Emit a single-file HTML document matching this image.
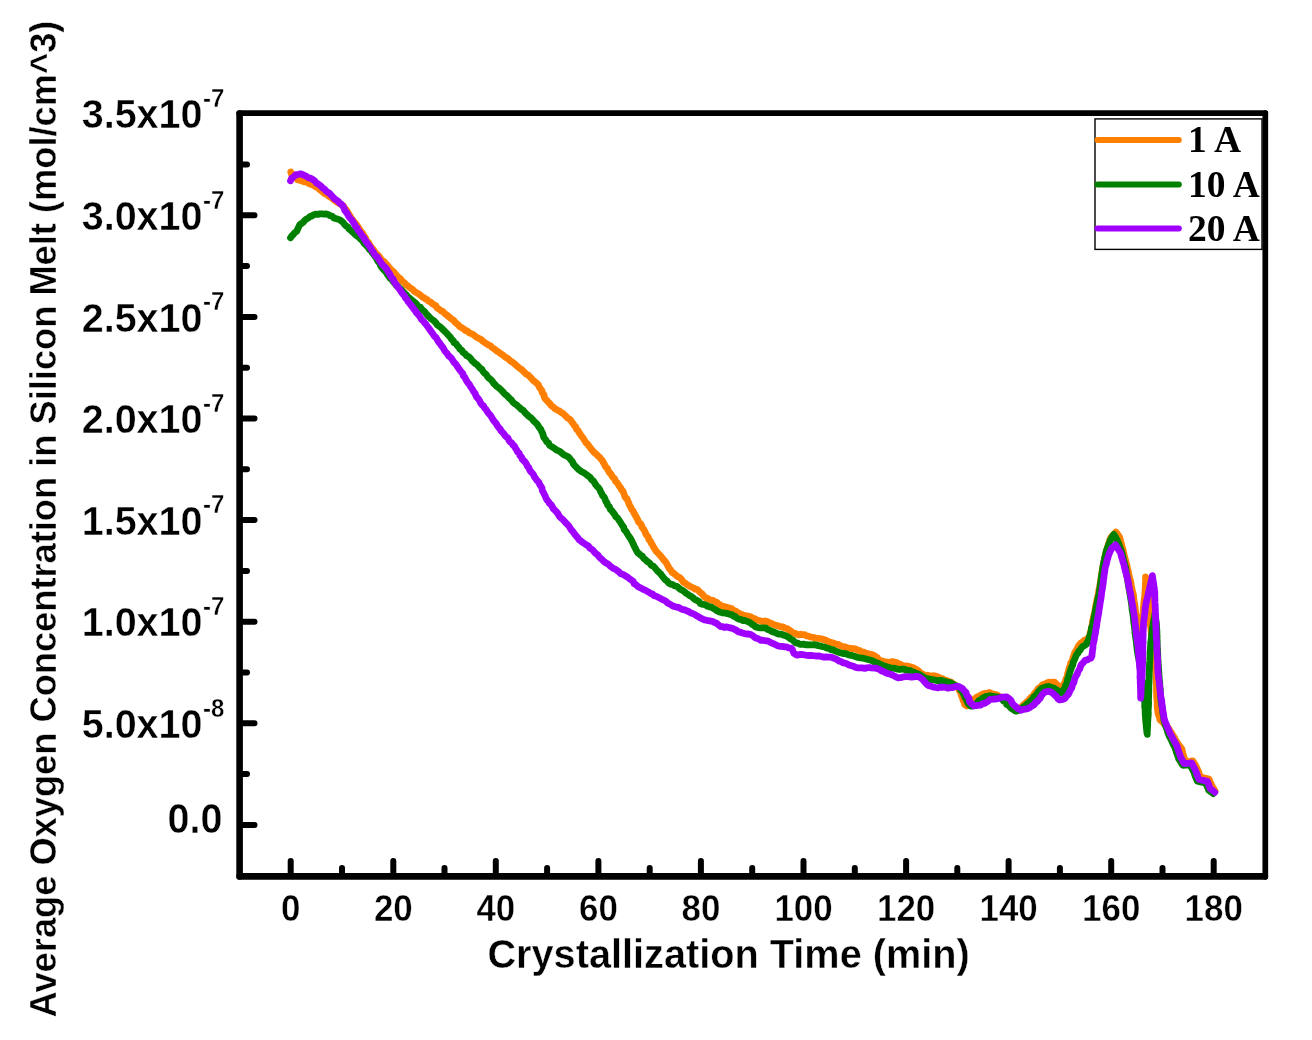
<!DOCTYPE html>
<html lang="en"><head><meta charset="utf-8"><title>Average Oxygen Concentration in Silicon Melt</title>
<style>
html,body{margin:0;padding:0;background:#fff}
svg{display:block}
text{font-family:"Liberation Sans",Arial,Helvetica,sans-serif;font-weight:bold;fill:#000}
.xt,.yt,.ys,.xl,.yl{stroke:#fff;stroke-width:.4px}
.lg{font-family:"Liberation Serif","Times New Roman",serif;font-size:37.5px}
.xt{font-size:34.9px}
.yt{font-size:39.5px}
.ys{font-size:24px}
.xl{font-size:39.7px}
.yl{font-size:36.25px}
</style></head><body>
<svg width="1312" height="1040" viewBox="0 0 1312 1040">
<rect width="1312" height="1040" fill="#fff"/>
<path d="M290.8 172.0L291.8 175.0L293.9 176.7L296.0 177.8L297.6 179.7L299.9 180.3L302.7 181.2L304.9 181.9L307.0 182.2L309.1 183.6L311.0 184.4L313.1 184.8L315.0 186.4L316.5 187.0L318.7 188.6L320.4 190.1L322.1 191.5L323.5 192.7L325.3 194.1L327.4 194.7L328.5 196.1L331.0 197.5L332.5 198.7L334.2 200.1L336.0 201.4L338.2 202.8L340.2 203.9L342.1 205.1L343.4 205.9L344.8 208.2L346.0 209.6L347.0 211.0L348.2 213.0L348.9 214.3L350.6 216.9L351.2 218.5L352.8 219.8L354.0 222.1L355.8 223.4L356.9 225.2L358.3 227.2L359.7 229.5L360.5 231.2L361.5 232.0L363.0 233.7L363.8 235.7L365.2 237.2L365.9 239.5L367.2 241.3L368.7 242.6L369.4 244.5L370.7 246.3L371.9 248.1L373.6 249.9L374.7 251.9L376.1 253.4L378.2 255.3L379.4 256.7L380.8 258.8L382.0 260.4L384.1 261.5L385.6 263.4L387.1 264.8L388.5 266.6L389.3 267.6L391.2 269.8L392.3 270.8L394.0 272.2L395.3 273.8L396.8 275.7L398.3 277.2L400.2 278.5L401.6 280.6L402.9 281.6L404.9 283.1L405.9 284.7L407.9 285.8L409.1 287.2L411.1 288.5L412.8 289.5L414.1 291.2L416.4 292.4L417.8 293.4L420.0 294.8L422.1 296.7L423.4 297.4L425.6 298.9L427.3 299.8L428.4 301.0L430.7 302.1L432.0 303.4L433.8 304.6L435.9 305.8L436.9 307.8L439.4 309.3L440.8 310.7L443.0 311.5L444.6 313.5L446.3 314.6L447.7 315.9L449.4 317.1L451.4 318.8L453.3 320.0L455.0 322.0L456.8 323.7L458.4 324.9L459.4 326.4L461.3 327.4L463.6 328.9L465.3 330.4L467.4 331.1L469.0 332.7L471.2 333.7L473.0 334.4L475.1 336.1L476.7 337.3L479.3 338.6L481.1 339.3L482.8 341.3L484.3 342.2L486.4 343.7L488.4 345.0L490.6 345.9L491.8 347.3L493.7 348.5L496.1 350.4L497.1 351.3L499.0 352.3L500.7 353.8L502.6 354.8L504.0 356.0L505.7 357.4L507.9 358.5L509.0 359.6L511.0 361.3L513.0 362.5L514.8 364.1L516.1 365.2L517.9 366.9L519.5 368.2L521.3 369.2L523.0 371.0L524.4 372.3L526.4 374.2L528.5 375.3L530.2 377.2L531.4 378.4L533.0 380.3L535.2 381.9L536.9 383.3L538.4 384.9L539.1 386.8L540.1 388.4L541.8 390.4L542.2 392.5L543.9 394.6L544.3 397.2L545.5 399.1L547.2 400.9L548.7 402.5L549.9 403.7L551.3 405.7L552.8 406.6L554.6 408.5L555.8 409.0L558.0 410.5L559.5 411.0L561.2 412.5L563.2 413.6L564.5 414.9L566.0 416.3L567.3 417.8L569.6 419.1L570.8 420.4L572.1 422.4L573.3 423.9L574.3 425.7L575.8 426.9L576.3 429.1L578.2 430.6L579.0 432.5L580.0 433.8L581.2 435.8L582.5 437.2L584.0 439.5L584.9 441.0L586.3 442.9L587.6 444.1L588.6 445.6L590.1 447.5L591.3 449.1L592.9 451.0L594.3 452.7L596.2 454.0L597.7 455.7L599.5 457.0L600.6 458.8L602.2 460.2L603.2 462.4L604.1 463.5L605.0 465.7L606.4 467.7L607.7 468.8L608.3 470.6L609.5 472.7L611.3 474.5L612.0 476.2L613.3 477.5L614.8 478.9L615.5 481.2L616.9 482.5L618.4 484.5L619.1 485.9L620.6 487.8L621.5 489.7L623.1 491.4L623.7 493.1L624.5 495.5L625.3 497.6L626.9 498.8L627.9 501.0L628.8 503.2L629.4 505.0L630.7 507.0L631.4 508.9L633.0 510.7L633.6 512.1L634.6 514.2L635.8 516.4L636.7 517.8L637.9 520.1L638.5 522.1L640.0 523.2L641.4 525.0L642.0 527.2L643.3 528.8L644.4 530.5L645.2 532.1L645.9 534.3L647.5 536.0L648.4 537.7L648.9 539.6L650.4 541.1L651.2 543.1L652.6 545.1L653.5 547.0L654.9 549.2L656.0 551.1L657.3 552.4L658.8 554.0L660.9 556.3L662.0 557.7L663.7 559.9L665.4 561.7L666.4 563.0L667.3 564.8L668.5 567.0L669.2 568.5L670.8 570.0L672.1 572.4L673.8 573.3L675.3 574.7L677.2 576.3L679.0 577.1L680.9 578.7L682.3 580.6L683.4 582.2L685.7 583.5L687.4 584.7L689.0 585.8L690.8 586.8L693.3 587.8L695.2 589.2L697.3 589.6L699.1 591.2L700.2 592.4L702.0 593.7L703.8 596.1L705.3 597.5L707.3 598.2L709.2 599.4L711.2 600.1L712.9 600.3L714.7 601.5L716.4 602.1L717.9 603.4L719.0 604.2L720.8 605.4L722.9 606.3L725.6 606.9L727.6 607.5L729.6 608.0L731.9 608.8L733.2 610.2L735.5 610.9L736.9 612.1L738.9 613.0L740.2 614.0L742.8 614.8L744.6 615.5L746.7 615.9L749.1 616.4L750.9 617.0L753.0 618.2L754.9 618.8L757.1 620.1L759.3 620.5L761.1 621.0L762.8 621.6L765.0 621.0L767.2 621.6L769.2 622.5L770.6 623.2L773.0 624.2L775.0 625.2L777.2 625.6L778.7 626.1L781.3 626.9L783.1 627.0L785.4 628.4L787.3 628.6L788.8 629.8L790.8 630.9L792.4 632.7L794.9 633.3L796.7 634.3L798.4 634.9L800.6 634.2L802.2 634.7L804.8 634.7L806.4 635.9L808.4 636.2L810.7 637.1L813.4 637.3L815.5 638.2L817.9 638.4L820.3 638.6L822.0 639.0L824.3 639.8L825.8 640.3L828.0 641.5L829.9 642.1L831.7 642.6L834.1 643.2L836.1 644.4L838.6 644.5L840.4 645.8L842.8 646.5L845.0 646.9L847.0 647.9L848.6 648.1L850.7 648.5L853.8 648.6L855.8 649.0L857.5 650.2L859.7 650.6L861.6 652.0L863.9 652.2L865.5 653.5L867.4 653.5L869.5 654.0L871.6 654.6L873.4 655.1L874.9 656.2L877.4 657.7L878.5 659.7L880.6 660.7L882.4 661.0L884.4 661.8L886.7 662.0L888.8 662.3L890.4 662.0L892.5 661.6L894.8 662.2L896.8 662.5L898.5 663.7L900.6 664.4L902.2 665.5L904.0 665.9L906.6 666.0L908.5 666.4L910.1 666.8L912.6 667.5L914.0 668.1L915.6 669.0L917.9 670.4L919.5 671.8L920.8 673.1L922.3 673.8L924.4 675.1L926.1 675.2L927.9 675.3L930.1 675.8L931.6 676.0L933.8 675.7L936.6 676.3L938.8 677.3L940.6 678.2L942.8 678.8L944.9 680.1L947.3 680.6L948.9 681.6L951.4 682.3L953.3 684.0L955.7 685.4L957.5 686.9L958.3 688.2L959.4 690.4L960.6 692.4L961.2 694.8L961.8 696.5L962.9 699.0L963.1 700.6L964.3 702.3L964.6 704.5L966.0 705.5L966.8 705.9L968.8 705.5L970.4 704.3L972.0 701.8L972.8 700.0L974.7 698.8L976.1 697.7L977.9 696.5L979.8 696.0L981.7 694.6L983.3 693.9L985.7 693.4L988.0 693.1L989.4 692.5L991.7 693.5L993.3 694.2L995.4 694.6L997.2 695.1L999.8 696.7L1002.0 697.4L1003.6 699.2L1005.3 700.6L1006.5 702.3L1007.8 703.7L1009.9 706.2L1011.5 707.4L1013.1 708.9L1015.2 709.7L1017.0 709.2L1018.2 708.7L1019.9 707.8L1021.9 706.7L1023.4 704.7L1025.0 703.8L1026.6 702.0L1028.4 700.9L1029.5 699.0L1031.3 697.1L1033.2 695.8L1034.5 693.4L1036.2 691.6L1037.1 690.3L1038.5 688.2L1040.5 687.3L1041.6 685.6L1043.3 684.4L1045.1 684.3L1046.8 682.9L1048.8 682.2L1051.0 682.3L1053.1 682.2L1054.7 682.1L1055.7 683.7L1056.9 684.5L1058.5 685.9L1059.8 687.3L1060.8 689.2L1061.7 689.5L1062.6 688.7L1063.8 686.7L1064.0 684.1L1065.2 682.1L1065.4 680.5L1066.6 677.7L1067.4 676.0L1067.6 673.6L1068.2 672.2L1068.8 669.4L1069.4 667.2L1070.2 665.8L1070.6 663.1L1072.0 661.6L1072.8 658.9L1073.0 657.4L1074.0 655.1L1074.8 652.5L1075.9 651.0L1077.2 648.8L1078.0 646.8L1079.2 644.9L1080.9 643.0L1082.3 642.2L1084.3 640.4L1086.2 640.0L1087.2 638.7L1088.5 637.3L1089.9 635.9L1090.3 633.7L1090.1 632.3L1091.2 630.3L1091.5 627.8L1092.0 625.3L1092.3 623.5L1092.6 621.4L1093.1 619.3L1093.5 617.1L1094.0 615.0L1094.6 613.0L1095.0 610.8L1095.2 608.7L1095.6 606.3L1096.1 604.4L1096.5 602.2L1096.9 600.1L1097.4 597.9L1097.9 595.8L1098.4 593.6L1098.7 591.5L1099.0 589.3L1099.7 587.2L1099.9 585.1L1100.3 583.0L1100.6 580.7L1101.0 578.8L1101.3 576.7L1101.7 574.4L1101.9 572.3L1102.3 570.2L1102.7 568.2L1103.0 565.9L1103.4 563.7L1104.0 561.3L1104.4 559.1L1104.9 556.7L1105.5 554.7L1106.0 552.4L1106.6 550.1L1107.3 548.0L1107.9 545.9L1108.6 544.0L1109.2 542.1L1109.8 539.9L1110.6 538.0L1111.8 536.4L1113.2 534.9L1114.7 533.4L1115.9 532.0L1117.2 533.6L1118.4 535.4L1119.5 536.9L1120.2 539.2L1120.5 541.3L1121.3 543.6L1121.7 545.5L1122.4 547.8L1123.1 550.1L1123.5 552.0L1124.0 554.1L1124.4 556.0L1124.9 558.0L1125.4 560.1L1126.0 562.0L1126.4 563.9L1127.0 566.2L1127.5 568.2L1128.1 570.5L1128.5 572.5L1128.9 574.8L1129.4 576.9L1130.0 579.0L1130.5 581.2L1131.0 583.3L1131.2 585.2L1131.7 587.4L1132.1 589.7L1132.5 591.8L1133.2 593.8L1133.6 596.0L1133.7 598.2L1134.0 600.5L1134.4 602.9L1134.8 604.9L1135.0 607.2L1135.3 609.4L1135.6 611.8L1136.0 613.9L1136.2 616.3L1136.6 618.5L1136.9 620.8L1137.2 623.2L1137.3 625.5L1137.7 627.7L1138.0 630.0L1138.2 632.0L1138.6 634.4L1138.8 636.5L1139.0 638.8L1139.4 640.8L1139.7 643.1L1139.8 645.4L1140.0 647.4L1140.3 649.7L1140.6 652.0L1140.5 649.8L1140.9 647.6L1141.0 645.6L1141.1 643.3L1141.3 641.2L1141.3 638.8L1141.7 636.7L1141.7 634.7L1142.0 632.4L1142.2 630.3L1142.3 627.9L1142.2 625.8L1142.6 623.5L1142.6 621.4L1142.7 619.2L1142.9 616.9L1143.0 614.7L1143.2 612.5L1143.3 610.2L1143.4 608.0L1143.7 605.6L1143.8 603.5L1144.0 601.3L1144.3 598.9L1144.6 596.9L1144.9 594.5L1145.0 592.1L1145.1 589.9L1145.4 587.7L1145.5 585.7L1145.4 583.4L1145.7 581.2L1145.6 579.2L1145.6 576.9L1146.4 579.1L1146.8 581.1L1147.2 583.1L1147.5 585.0L1147.6 587.4L1147.8 589.5L1147.9 591.5L1148.1 593.6L1148.3 595.9L1148.6 597.9L1148.8 600.0L1148.9 602.2L1149.0 604.5L1149.1 606.5L1149.2 608.9L1149.3 611.2L1149.6 613.5L1149.8 615.6L1149.8 617.6L1150.0 620.1L1150.3 622.1L1150.3 624.6L1150.7 626.7L1151.0 628.8L1151.1 631.2L1151.4 633.2L1151.4 635.6L1151.9 637.7L1151.9 639.9L1152.4 642.1L1152.6 644.4L1152.9 646.4L1153.2 648.4L1153.4 650.8L1153.6 652.7L1154.0 654.9L1154.4 657.0L1154.6 659.3L1154.9 661.4L1155.1 663.5L1155.2 665.7L1155.6 667.8L1155.7 670.0L1155.8 672.1L1156.0 674.3L1156.1 676.4L1156.0 678.4L1156.2 680.6L1156.3 682.8L1156.5 685.0L1156.5 687.2L1156.5 689.3L1156.6 691.3L1156.8 693.6L1156.6 695.8L1156.9 697.9L1156.9 699.9L1157.2 702.3L1157.2 704.9L1157.3 707.2L1157.6 709.5L1157.9 712.0L1158.2 713.9L1158.8 715.8L1159.6 717.7L1159.9 719.6L1161.3 720.8L1162.6 722.1L1163.9 723.5L1165.2 725.0L1166.5 726.3L1167.9 727.4L1169.4 729.7L1170.7 731.8L1172.0 733.9L1173.3 736.0L1174.5 737.9L1175.5 740.1L1176.9 742.0L1178.1 744.0L1179.3 745.7L1180.7 747.2L1181.9 749.1L1182.4 751.2L1182.9 753.5L1183.5 755.8L1184.1 758.0L1185.4 760.0L1186.9 761.9L1189.0 761.7L1190.9 761.2L1192.9 760.9L1194.0 762.7L1195.1 764.5L1196.0 766.2L1196.9 768.1L1197.9 770.2L1198.8 772.4L1199.5 774.7L1200.4 777.0L1202.7 777.6L1204.6 778.1L1206.9 778.5L1209.0 779.0L1209.9 781.3L1211.0 783.7L1212.1 785.9L1213.1 787.8L1214.1 789.5L1215.0 791.0" fill="none" stroke="#FF8000" stroke-width="6.8" stroke-linecap="round" stroke-linejoin="round"/>
<path d="M290.5 237.7L291.9 235.8L293.6 234.2L294.8 232.7L296.8 231.1L297.9 228.6L298.9 226.6L299.9 224.6L301.3 223.7L303.4 222.1L304.9 220.2L306.0 219.2L308.1 218.2L310.0 216.5L311.6 216.1L313.5 214.9L315.5 214.2L318.0 214.4L319.8 213.8L322.2 213.8L324.3 214.1L326.1 214.0L328.2 214.6L329.7 215.4L332.2 216.2L333.4 217.7L335.5 218.5L337.6 219.1L339.9 219.9L341.3 221.0L343.1 222.4L344.5 224.4L346.0 225.9L348.0 227.2L348.9 228.9L351.3 230.7L352.6 232.0L354.3 233.6L356.0 235.2L358.5 236.9L360.0 238.5L360.9 239.4L363.1 241.5L364.0 243.2L365.6 244.7L366.7 245.8L368.2 247.4L369.5 249.7L370.8 250.5L371.9 252.3L373.8 254.3L374.6 255.9L376.4 258.0L377.0 259.5L378.1 261.5L379.8 263.3L380.5 265.4L381.9 267.7L383.1 269.2L384.9 270.9L386.5 272.8L387.4 274.5L388.7 276.3L390.3 278.5L392.3 279.9L393.1 281.5L394.8 283.2L396.4 285.5L397.9 286.5L400.2 288.7L401.8 290.2L403.4 292.1L405.0 293.7L406.4 294.8L407.9 297.0L410.2 298.6L411.5 299.9L413.6 301.5L415.3 302.9L416.9 304.6L418.2 306.4L420.4 307.2L421.9 309.6L423.2 310.4L424.9 312.0L426.5 314.0L427.3 315.1L429.3 316.9L431.0 318.8L432.1 319.5L434.2 321.0L435.7 322.6L437.2 324.7L439.0 326.1L440.7 327.3L442.4 329.0L444.4 331.0L445.8 332.4L447.0 333.6L448.9 335.7L450.5 337.4L451.3 338.9L453.3 340.7L454.0 342.7L456.1 343.7L457.3 345.7L458.9 347.3L459.9 349.1L462.0 350.4L462.9 352.4L465.3 353.9L466.6 355.7L468.6 356.6L470.4 358.2L471.7 360.3L473.5 361.8L475.0 363.4L476.6 364.4L478.5 366.2L480.1 368.3L481.8 369.3L483.0 371.4L484.6 373.2L486.2 374.4L487.5 376.7L489.1 378.3L491.2 379.9L492.5 381.5L493.7 383.4L495.4 384.9L496.8 386.5L498.7 387.8L500.0 388.9L501.8 390.7L503.2 392.0L504.3 393.6L506.4 395.2L508.1 396.9L509.5 398.4L511.2 399.7L512.7 402.0L514.2 403.3L516.1 404.5L517.5 405.8L520.0 408.0L521.5 409.5L523.3 410.4L524.6 412.2L526.2 413.9L527.9 415.4L529.0 416.5L531.0 417.9L532.5 419.4L533.7 421.0L535.3 422.3L537.1 424.1L537.9 425.4L539.2 427.5L540.9 429.5L541.4 431.1L542.6 433.2L543.1 435.1L543.9 437.6L545.6 439.6L546.8 441.8L548.5 443.0L549.6 445.4L552.1 446.9L553.5 447.7L554.9 448.7L556.9 450.2L559.3 451.2L560.5 451.9L562.5 453.7L564.2 454.9L566.5 456.0L568.5 457.1L569.8 458.4L570.9 459.9L572.4 461.7L573.5 464.2L575.0 465.8L576.6 467.4L578.1 469.1L579.9 470.3L581.4 471.5L583.3 472.5L584.9 473.4L587.0 474.9L588.0 475.9L590.3 477.5L591.5 479.5L593.4 480.9L594.5 482.6L595.7 484.7L597.1 486.5L598.4 487.6L600.0 489.9L600.5 491.5L601.7 493.5L602.5 495.5L604.2 497.2L605.2 499.4L605.8 501.3L607.2 503.1L607.6 505.1L609.4 506.8L610.3 509.3L611.6 510.4L613.1 512.5L614.8 514.6L615.8 516.7L617.6 518.0L619.1 520.3L620.3 522.1L621.3 523.8L622.3 525.4L623.7 527.1L624.0 529.2L625.5 530.9L626.7 532.5L627.6 534.3L629.3 537.0L630.4 538.3L631.8 540.8L632.4 542.2L633.6 544.7L634.3 546.3L635.4 548.3L636.3 550.2L637.5 552.5L639.4 554.0L640.5 555.1L642.4 556.2L643.8 558.5L645.6 559.8L646.8 561.1L648.8 562.5L650.0 563.4L651.2 565.3L653.4 566.2L654.8 567.7L656.2 569.5L657.5 570.9L659.0 572.3L660.4 573.7L662.1 575.9L663.5 577.6L665.1 579.6L666.7 580.7L668.5 582.9L670.8 584.2L672.7 584.6L674.7 585.8L677.3 586.5L678.7 588.1L680.5 589.4L682.5 590.3L684.6 591.9L686.0 593.1L687.9 594.3L689.6 595.6L691.5 596.5L693.1 597.9L695.1 599.7L697.1 600.5L699.2 601.7L700.4 603.6L702.9 604.4L705.1 604.7L707.2 606.0L709.3 606.8L711.0 607.0L713.0 608.2L715.3 609.4L717.0 610.8L719.3 611.9L720.6 612.3L722.9 612.9L725.5 613.1L727.7 613.6L729.7 614.3L732.1 614.7L733.5 616.3L735.2 616.5L736.9 618.2L739.2 619.3L740.9 619.3L742.6 620.5L744.6 620.4L746.5 621.2L748.3 621.9L750.0 622.6L752.4 624.5L754.0 625.4L755.7 626.9L758.1 627.6L760.2 627.8L761.5 627.8L763.8 627.8L765.8 627.8L767.4 629.4L769.0 629.8L770.9 631.0L773.0 631.9L775.2 632.5L777.0 633.5L779.2 634.2L781.6 634.2L783.1 635.0L785.3 635.6L787.3 636.4L788.7 637.4L790.7 639.0L792.5 639.8L794.1 641.4L795.4 642.8L798.0 643.1L800.0 644.3L801.6 644.3L803.3 644.1L805.5 644.8L807.3 644.6L809.5 644.8L812.1 644.9L813.7 644.6L815.6 644.9L818.4 645.6L819.8 645.8L821.9 646.5L824.7 647.0L826.7 648.2L828.8 648.3L830.9 649.6L833.0 649.6L834.2 650.6L836.7 651.4L838.4 652.3L841.0 653.0L843.0 653.5L845.2 653.6L847.2 654.1L849.0 655.2L851.4 655.3L853.7 656.1L855.8 656.7L858.1 657.5L860.5 657.9L863.1 658.2L865.2 658.7L867.9 659.5L870.0 660.0L872.3 660.7L874.5 662.0L876.7 662.9L878.9 663.5L881.2 664.7L883.0 665.7L884.7 666.0L886.5 666.7L888.5 667.3L890.6 668.0L892.9 668.2L895.5 668.5L897.9 669.2L899.7 669.5L901.7 669.1L904.6 669.2L905.9 670.2L907.9 670.4L910.4 670.6L912.0 671.9L913.9 672.1L915.8 673.3L917.6 673.6L919.9 674.7L921.2 675.7L923.9 677.2L925.8 678.2L928.1 678.7L929.9 679.4L931.8 679.5L934.7 680.0L936.5 680.5L938.4 680.6L940.3 680.3L942.2 680.7L943.8 681.1L945.8 681.7L948.3 682.4L950.4 682.6L952.2 683.8L953.9 684.6L955.6 685.6L958.0 686.8L959.5 688.1L960.5 689.8L962.2 691.5L963.3 693.6L964.1 695.0L965.0 697.6L966.4 699.5L967.0 701.3L968.2 703.9L969.4 705.1L971.0 706.1L972.5 706.1L974.0 705.1L976.2 703.7L977.7 702.2L978.7 700.9L980.4 699.8L982.3 698.3L984.3 697.2L986.1 696.5L988.4 696.0L990.3 695.9L993.1 696.4L995.6 696.9L997.8 697.0L1000.0 697.8L1002.1 698.8L1003.4 700.9L1005.7 702.1L1006.6 704.4L1008.9 705.6L1010.7 707.8L1012.3 709.0L1013.8 710.0L1016.0 711.2L1018.0 710.5L1020.0 709.4L1021.7 708.2L1023.1 707.0L1025.5 705.7L1026.5 704.5L1028.3 703.1L1030.0 701.7L1031.8 699.9L1033.0 698.1L1034.1 696.6L1035.9 695.2L1037.1 694.1L1038.1 691.9L1039.4 690.6L1041.0 688.8L1043.2 688.0L1045.3 687.1L1047.3 686.6L1049.4 686.5L1051.8 687.6L1053.3 687.9L1055.4 689.2L1057.8 690.5L1059.4 691.7L1060.7 692.6L1062.1 692.8L1062.6 691.9L1063.9 690.5L1064.4 688.4L1065.7 685.5L1066.4 684.0L1067.3 681.6L1067.6 679.3L1068.6 677.2L1068.9 675.3L1069.9 672.5L1070.4 670.5L1071.2 668.4L1071.9 666.5L1072.8 664.9L1073.0 662.9L1074.0 660.4L1075.1 658.2L1075.6 656.8L1076.4 654.9L1078.0 653.0L1078.9 651.0L1080.3 650.0L1081.0 648.3L1082.8 646.4L1084.5 645.7L1086.4 644.1L1087.3 641.9L1088.4 640.0L1089.5 637.7L1089.7 635.8L1090.6 633.4L1091.3 630.9L1091.3 628.4L1092.1 626.6L1092.7 624.4L1093.1 622.1L1093.7 619.7L1094.1 617.6L1094.6 615.4L1094.9 613.2L1095.4 611.0L1095.8 608.7L1096.4 606.6L1096.7 604.4L1097.3 602.1L1097.6 600.0L1098.2 597.6L1098.7 595.4L1099.2 593.2L1099.6 590.9L1099.8 588.7L1100.2 586.7L1100.3 584.3L1100.8 582.2L1101.0 580.0L1101.3 577.8L1101.6 575.5L1101.9 573.5L1102.3 571.3L1102.6 569.0L1102.9 567.0L1103.3 564.8L1103.7 562.7L1104.3 560.6L1104.6 558.4L1105.2 556.1L1105.6 554.1L1106.1 552.1L1106.6 550.0L1107.4 548.1L1108.3 545.9L1108.8 544.0L1109.7 542.1L1110.3 540.1L1111.5 538.2L1112.6 536.1L1113.8 534.4L1115.0 536.1L1115.9 538.1L1117.1 540.0L1117.9 542.2L1118.9 544.3L1119.7 546.6L1120.5 548.9L1121.4 551.1L1121.9 553.1L1122.6 555.3L1123.1 557.5L1123.5 559.7L1124.1 561.7L1124.6 563.8L1125.2 566.0L1125.6 568.3L1126.1 570.6L1126.3 572.9L1126.9 575.3L1127.2 577.4L1127.7 579.7L1127.9 582.0L1128.3 584.4L1128.7 586.5L1129.1 588.9L1129.6 591.3L1129.8 593.4L1130.3 595.7L1130.6 598.0L1131.0 600.2L1131.3 602.3L1131.6 604.3L1131.9 606.4L1132.0 608.6L1132.3 610.7L1132.7 612.8L1133.0 615.0L1133.4 617.1L1133.5 619.4L1133.7 621.6L1134.0 623.8L1134.4 626.1L1134.6 628.3L1134.9 630.6L1135.0 632.8L1135.4 635.1L1135.6 637.1L1135.9 639.3L1136.3 641.4L1136.5 643.6L1136.7 645.8L1137.0 647.8L1137.2 649.7L1137.5 652.0L1137.9 654.3L1138.2 656.4L1138.8 658.6L1139.2 660.8L1139.5 662.7L1139.8 664.9L1140.1 667.2L1140.5 669.2L1140.6 671.3L1141.1 673.7L1141.3 675.6L1141.6 678.0L1141.9 680.0L1142.4 682.1L1142.6 684.4L1142.9 686.7L1143.0 689.0L1143.4 691.3L1143.7 693.5L1144.0 695.4L1144.1 697.9L1144.5 700.1L1144.7 702.2L1144.8 704.5L1144.7 706.8L1145.1 709.0L1145.2 711.1L1145.2 713.5L1145.4 715.9L1145.5 718.0L1145.7 720.1L1145.9 722.1L1146.1 724.3L1146.3 726.3L1146.5 728.5L1146.7 730.4L1146.9 732.5L1147.3 734.4L1147.2 732.3L1147.4 729.9L1147.4 727.7L1147.7 725.5L1147.6 723.1L1147.8 720.9L1147.9 718.5L1148.1 716.2L1148.3 713.9L1148.2 711.9L1148.2 709.6L1148.4 707.5L1148.5 705.4L1148.6 703.0L1148.5 700.9L1148.5 698.8L1148.6 696.7L1148.6 694.3L1148.8 692.3L1148.8 690.1L1148.8 687.7L1148.8 685.4L1149.0 683.2L1149.0 680.9L1149.1 678.8L1149.2 676.5L1149.2 674.2L1149.2 671.7L1149.4 669.6L1149.4 667.3L1149.5 665.0L1149.6 662.8L1149.8 660.5L1149.9 658.4L1150.1 656.0L1150.0 653.8L1150.1 651.7L1150.4 649.3L1150.5 647.3L1150.6 645.1L1150.7 642.9L1151.0 640.7L1151.3 638.6L1151.6 636.6L1151.7 634.3L1152.1 632.1L1152.1 630.2L1152.4 627.9L1152.9 625.7L1153.2 623.3L1153.6 620.9L1154.2 618.7L1154.6 616.5L1154.9 613.9L1155.3 616.2L1155.7 618.3L1156.0 620.7L1156.3 622.9L1156.5 625.0L1156.6 627.3L1156.8 629.6L1156.9 631.9L1156.9 634.0L1157.1 636.4L1157.0 638.5L1157.2 640.8L1157.2 643.2L1157.2 645.4L1157.3 647.7L1157.6 649.9L1157.6 652.2L1157.8 654.6L1157.8 656.9L1157.9 659.0L1158.1 661.4L1158.2 663.7L1158.4 665.8L1158.5 668.3L1158.7 670.6L1158.9 672.7L1159.0 675.0L1159.2 677.4L1159.3 679.5L1159.7 681.9L1159.8 684.1L1159.8 686.3L1160.2 688.6L1160.3 690.9L1160.4 693.1L1160.5 695.5L1160.7 697.7L1161.0 700.1L1161.2 702.3L1161.7 704.6L1162.0 706.9L1162.4 709.2L1162.7 711.3L1162.9 713.7L1163.4 715.9L1163.7 718.1L1164.0 720.5L1164.8 722.9L1165.4 724.9L1166.1 727.4L1167.0 729.4L1167.5 731.7L1168.4 734.0L1169.2 736.1L1170.3 738.1L1171.3 740.1L1172.2 742.1L1173.1 744.1L1174.2 746.1L1175.1 748.1L1175.8 750.2L1176.5 752.5L1177.3 754.7L1178.1 756.7L1178.8 759.0L1180.3 761.2L1181.4 763.2L1182.9 765.3L1185.3 765.1L1187.6 765.0L1189.9 764.9L1191.1 766.7L1191.9 768.4L1193.0 770.3L1193.9 772.0L1194.6 774.4L1195.4 776.7L1196.4 779.0L1197.3 781.2L1199.4 781.6L1201.7 782.2L1203.8 782.6L1205.7 783.1L1206.5 785.1L1207.2 786.8L1208.2 788.5L1208.7 790.2L1210.2 791.4L1211.8 792.4L1213.3 793.6" fill="none" stroke="#008000" stroke-width="6.8" stroke-linecap="round" stroke-linejoin="round"/>
<path d="M290.5 180.8L291.6 178.2L293.1 177.3L294.6 176.0L295.9 174.7L298.7 174.3L300.6 173.8L302.2 174.4L304.2 175.4L305.9 176.0L308.3 177.7L310.9 178.4L313.1 179.7L315.0 181.2L316.6 183.3L318.7 184.3L321.3 186.4L322.6 188.0L324.5 189.2L325.8 190.8L327.7 192.2L329.3 193.1L330.4 194.3L331.7 195.7L333.4 197.5L334.7 199.0L336.6 200.1L338.6 201.7L339.7 203.2L341.5 204.4L343.1 206.2L344.2 208.7L344.8 210.5L346.4 212.3L347.3 213.7L348.8 216.4L350.1 218.2L352.0 220.3L352.9 221.7L354.4 224.0L355.3 226.0L357.2 228.0L357.9 230.0L359.2 231.3L360.8 233.7L361.9 235.6L363.3 237.0L364.4 238.8L365.5 240.7L367.3 243.4L368.1 244.5L370.1 246.9L370.9 248.6L372.4 251.0L373.5 252.4L374.5 254.5L375.8 255.9L377.7 257.3L378.9 259.7L380.1 261.2L381.0 262.6L382.3 264.6L383.7 265.9L385.6 267.8L386.8 269.2L387.7 271.2L388.9 272.7L390.1 274.6L391.2 277.3L393.0 279.0L393.8 280.8L394.7 282.7L396.6 285.1L397.6 286.9L399.2 288.7L400.5 290.6L401.6 292.3L402.8 294.0L404.6 296.0L405.5 298.0L407.1 299.6L407.9 301.4L409.5 303.3L411.0 305.3L412.6 307.2L413.8 309.0L415.5 311.0L416.5 312.8L418.2 314.4L419.6 316.3L420.5 317.6L421.5 319.6L423.4 321.0L424.5 322.8L425.8 324.0L427.1 326.0L428.3 327.5L429.6 329.4L430.9 331.1L431.7 332.3L433.3 334.5L434.4 336.3L436.0 337.5L437.2 339.5L438.1 341.2L439.6 343.0L440.8 344.7L442.3 346.8L443.7 348.8L444.7 350.8L445.8 352.1L447.3 353.8L448.5 355.8L450.0 356.8L451.5 358.4L452.7 360.3L454.0 362.4L455.5 363.7L456.8 365.6L457.6 366.8L459.1 368.9L460.6 371.0L461.5 372.2L462.9 373.6L463.3 375.8L464.8 377.2L465.9 379.6L466.8 381.0L467.7 382.6L469.4 384.4L470.5 386.6L471.4 387.9L472.8 389.9L473.5 391.5L475.1 393.4L475.7 395.2L476.7 397.1L478.2 398.7L479.7 400.9L480.3 402.5L481.8 404.7L483.5 405.9L484.3 407.7L486.2 409.6L487.2 411.5L488.5 413.3L489.9 414.7L491.2 416.6L492.3 418.4L493.4 420.3L494.8 421.9L496.4 423.8L497.0 425.3L498.7 427.6L500.3 429.0L500.9 430.8L502.5 432.2L504.0 433.9L505.1 435.7L506.3 436.8L508.0 438.2L508.9 440.3L510.0 441.8L511.8 443.0L512.8 444.9L514.5 446.1L515.4 448.2L516.6 449.8L517.5 451.8L519.2 453.1L519.9 455.5L521.6 457.2L522.1 459.0L524.1 461.0L525.1 462.0L526.4 463.9L527.4 466.3L528.7 467.4L529.6 469.9L530.7 471.5L532.1 472.9L533.5 474.6L534.3 476.7L535.5 478.3L537.2 480.7L538.7 482.0L539.5 484.0L540.7 486.1L542.0 487.9L542.2 490.2L543.2 492.1L544.3 494.3L545.3 496.1L546.0 498.0L547.0 500.1L548.4 501.4L549.4 503.3L551.2 504.9L552.5 507.0L553.3 508.7L554.7 510.0L556.4 511.8L558.0 513.7L559.0 515.7L560.2 517.4L561.8 518.6L564.1 520.9L565.1 522.1L567.3 524.4L568.6 525.7L569.9 527.6L570.9 529.4L572.5 531.1L573.7 532.7L575.3 534.9L576.6 536.4L578.0 538.2L579.3 539.9L581.1 541.1L582.3 542.2L584.3 543.5L586.7 545.1L588.4 546.0L589.8 548.1L591.6 549.2L593.1 550.4L594.3 552.0L596.1 553.8L598.0 555.1L599.1 556.8L600.6 558.3L602.5 559.9L604.1 561.7L606.2 563.1L608.3 564.2L610.0 565.9L611.5 567.0L613.4 568.4L615.6 569.3L617.0 570.5L618.8 571.8L620.8 573.7L622.6 574.2L624.5 575.2L626.5 576.6L627.8 577.3L630.0 579.2L631.6 580.2L633.4 581.5L634.2 583.8L636.1 584.7L638.0 586.8L639.8 587.4L641.3 588.3L643.9 589.7L645.7 590.4L647.0 591.3L649.0 592.3L650.7 593.5L652.6 594.1L654.2 595.8L656.2 596.3L658.2 597.3L659.8 598.0L661.6 599.2L664.2 600.3L666.0 601.2L667.2 602.7L669.6 604.0L671.5 605.2L673.9 606.4L675.7 606.8L678.3 607.3L679.8 608.1L681.9 609.3L684.7 609.8L686.3 610.6L688.5 611.5L690.8 612.9L692.6 613.5L694.9 614.5L696.3 615.7L698.3 616.6L700.1 617.8L702.3 618.9L704.4 619.8L706.4 620.2L708.4 620.7L710.8 621.1L713.0 621.5L714.6 622.6L716.6 623.2L718.2 624.7L720.2 626.3L722.1 626.6L724.5 627.4L725.8 627.0L727.8 627.2L730.4 628.0L732.2 628.1L734.0 629.2L736.0 630.0L738.3 631.8L740.4 632.2L742.3 633.0L744.4 633.6L746.5 634.0L747.7 633.8L750.3 634.3L751.7 635.1L753.8 636.6L755.4 637.9L757.3 638.3L759.4 639.4L760.8 640.3L762.9 640.2L765.3 640.8L767.4 640.9L769.3 641.7L771.6 642.9L773.8 643.8L775.6 644.7L778.2 646.0L780.3 646.3L782.2 646.3L784.9 646.8L786.5 646.9L788.7 647.8L791.2 648.2L792.4 649.7L793.2 651.9L794.1 653.5L795.1 654.0L796.8 655.0L798.5 654.8L800.6 654.4L802.7 654.7L804.8 655.0L806.8 655.4L809.2 655.5L811.1 655.4L813.1 655.7L815.1 655.8L817.5 656.1L819.3 656.0L821.3 656.5L823.9 657.1L826.1 657.0L828.5 657.1L830.5 657.1L832.6 657.8L834.7 658.5L836.2 659.2L837.9 660.1L839.1 661.1L841.4 661.8L843.4 662.9L845.0 663.1L847.1 663.9L849.5 665.2L851.8 665.7L853.5 666.2L855.8 667.4L858.0 667.8L860.4 667.9L862.2 667.9L864.8 668.3L866.7 667.9L869.5 667.5L871.1 667.8L874.0 668.1L876.0 668.1L877.8 668.9L880.1 669.7L881.5 671.0L884.0 671.6L885.2 672.5L887.8 673.6L889.7 673.9L892.3 675.0L894.4 676.0L895.8 676.8L898.2 677.8L899.6 677.7L901.9 677.3L903.6 676.8L906.2 676.7L907.6 676.7L909.6 676.9L911.6 677.1L913.5 676.8L916.0 676.5L918.0 676.5L920.1 677.6L921.8 678.9L923.0 679.8L924.4 681.6L926.0 683.4L927.7 685.1L929.0 685.8L931.5 686.4L933.4 687.1L935.8 687.5L937.9 687.8L940.3 687.0L942.1 687.4L943.7 687.0L945.9 687.5L948.1 688.2L949.9 687.7L952.0 687.7L954.2 687.0L955.8 686.4L958.1 686.5L959.2 686.8L961.1 687.8L962.5 688.7L963.9 690.5L966.0 692.3L966.6 694.5L967.3 695.9L968.6 697.5L969.3 699.8L969.4 701.5L970.9 703.2L972.4 704.2L973.9 705.8L976.1 705.7L977.8 705.4L980.6 705.2L982.3 703.8L984.2 703.5L986.2 702.3L988.3 701.1L989.9 699.5L991.3 699.4L993.7 699.2L996.1 699.0L997.8 698.7L1000.1 697.9L1001.6 697.2L1003.8 697.1L1006.3 696.8L1007.7 697.6L1009.5 698.9L1011.0 700.4L1011.8 702.4L1012.9 704.1L1015.0 706.1L1015.9 706.7L1018.0 708.7L1019.4 709.0L1020.9 710.3L1023.5 709.4L1025.1 709.2L1027.5 708.6L1029.7 707.6L1031.6 706.1L1034.2 704.8L1035.4 702.7L1037.5 701.3L1038.7 699.6L1040.2 698.2L1041.1 696.0L1042.5 694.3L1044.5 692.3L1046.2 691.7L1047.9 691.3L1050.3 691.6L1052.3 692.9L1053.7 694.1L1055.2 695.5L1056.8 696.8L1057.9 698.7L1059.6 699.9L1061.0 699.6L1063.2 699.3L1065.3 698.2L1066.4 696.2L1068.3 694.5L1069.0 693.1L1070.0 690.7L1071.4 688.6L1072.0 686.9L1072.6 684.5L1073.8 682.6L1074.3 680.5L1075.0 678.1L1076.0 676.1L1077.3 674.2L1077.6 672.6L1078.8 670.3L1079.8 668.7L1080.4 666.8L1081.2 664.7L1082.9 663.1L1084.3 661.4L1085.3 660.1L1087.7 659.8L1088.9 658.7L1091.0 658.2L1091.9 656.2L1092.0 654.6L1092.3 652.5L1092.5 650.3L1092.9 648.1L1092.9 646.1L1093.3 643.5L1093.8 641.4L1094.4 639.1L1094.5 636.7L1095.2 634.2L1095.6 631.9L1095.8 629.6L1096.3 627.5L1096.7 625.2L1096.9 622.9L1097.3 620.9L1097.7 618.4L1098.1 616.1L1098.5 614.0L1098.9 611.8L1099.0 609.8L1099.5 607.7L1099.8 605.8L1100.0 603.5L1100.4 601.5L1100.8 599.4L1101.1 597.2L1101.4 595.3L1101.6 593.0L1101.9 591.0L1102.4 588.7L1102.6 586.6L1103.0 584.3L1103.3 582.2L1103.4 580.0L1103.9 577.8L1104.0 575.7L1104.4 573.4L1104.8 571.1L1105.0 568.9L1105.4 566.8L1106.1 564.9L1106.6 562.8L1106.9 560.8L1107.6 558.9L1108.1 556.8L1108.8 554.6L1109.8 552.3L1110.9 550.1L1111.7 548.0L1113.8 546.6L1115.5 544.9L1116.8 546.9L1118.0 548.9L1119.4 551.0L1120.5 552.9L1121.1 555.2L1121.6 557.0L1122.3 559.3L1122.8 561.3L1123.5 563.3L1124.1 565.4L1124.4 567.4L1125.2 569.6L1125.6 571.8L1126.2 573.7L1126.7 575.9L1127.2 577.9L1127.9 580.0L1128.1 582.0L1128.7 584.2L1128.9 586.3L1129.3 588.2L1129.7 590.3L1130.3 592.5L1130.6 594.5L1131.0 596.6L1131.4 598.6L1131.7 600.9L1132.1 603.1L1132.5 605.2L1132.9 607.4L1133.3 609.7L1133.5 611.7L1134.0 613.8L1134.2 616.1L1134.7 618.2L1134.9 620.7L1135.1 622.8L1135.4 625.2L1135.7 627.6L1135.8 630.0L1136.1 632.1L1136.3 634.5L1136.6 636.8L1137.0 639.0L1137.2 641.3L1137.7 643.8L1138.1 645.9L1138.2 648.3L1138.3 650.5L1138.7 652.9L1138.7 655.2L1139.0 657.3L1139.1 659.6L1139.2 661.8L1139.5 664.2L1139.7 666.5L1139.8 668.7L1140.1 671.0L1140.1 673.3L1140.1 675.6L1140.0 677.7L1140.3 679.9L1140.2 682.1L1140.4 684.4L1140.4 686.7L1140.6 689.0L1140.5 691.1L1140.7 693.6L1140.7 695.8L1140.7 698.1L1140.9 695.8L1140.8 693.6L1141.2 691.2L1141.1 689.0L1141.2 686.7L1141.4 684.4L1141.5 682.2L1141.7 680.1L1141.9 677.7L1142.2 675.6L1142.2 673.2L1142.3 671.0L1142.3 668.7L1142.4 666.7L1142.5 664.5L1142.6 662.2L1142.7 660.1L1142.7 657.7L1142.7 655.6L1142.8 653.4L1142.8 651.0L1142.8 648.8L1142.9 646.8L1142.8 644.5L1143.1 642.2L1142.9 640.1L1143.0 637.8L1143.1 635.5L1143.1 633.4L1143.1 631.1L1143.3 629.2L1143.4 626.8L1143.5 624.5L1143.6 622.2L1143.8 620.1L1144.3 617.7L1144.5 615.4L1144.8 613.2L1145.0 610.8L1145.2 608.6L1145.6 606.2L1145.9 604.2L1146.3 602.0L1146.9 599.9L1147.4 597.6L1148.0 595.6L1148.3 593.5L1148.9 591.2L1149.4 589.0L1149.8 586.9L1150.4 584.8L1150.9 582.3L1151.4 580.2L1151.9 577.8L1152.4 575.6L1152.6 577.7L1153.0 579.7L1153.2 581.8L1153.7 583.9L1153.8 586.0L1154.3 588.0L1154.4 590.1L1154.8 592.3L1154.7 594.6L1154.8 596.7L1154.9 598.9L1154.9 600.8L1155.0 603.0L1155.2 605.2L1155.2 607.4L1155.4 609.5L1155.3 611.7L1155.5 613.8L1155.5 615.9L1155.6 618.3L1155.6 620.3L1155.8 622.5L1155.7 624.6L1156.0 626.6L1155.9 629.0L1156.2 631.0L1156.1 633.3L1156.3 635.4L1156.3 637.5L1156.4 639.7L1156.7 641.9L1156.9 644.1L1156.9 646.3L1156.9 648.4L1157.0 650.6L1157.1 652.8L1157.3 654.9L1157.5 657.1L1157.5 659.3L1157.7 661.3L1157.7 663.6L1157.7 665.7L1157.7 667.9L1158.0 670.1L1157.9 672.3L1158.2 674.5L1158.5 676.5L1158.6 678.8L1159.1 680.8L1159.3 683.1L1159.6 685.3L1159.9 687.3L1160.0 689.5L1160.2 691.8L1160.5 693.8L1160.8 696.1L1161.1 698.2L1161.7 700.6L1161.8 702.8L1162.0 704.9L1162.4 707.4L1162.7 709.4L1162.9 711.6L1163.5 714.1L1163.8 716.4L1164.1 718.4L1164.7 720.4L1165.4 722.3L1166.4 724.4L1167.0 726.3L1168.0 728.5L1168.8 730.4L1169.6 732.3L1170.5 734.3L1171.6 736.1L1172.6 738.2L1173.7 740.1L1174.8 742.2L1176.1 744.2L1177.1 746.3L1177.7 748.3L1178.4 750.5L1179.2 752.9L1180.0 754.9L1180.5 757.1L1181.9 759.3L1182.9 761.5L1184.2 763.6L1186.8 763.4L1189.2 763.2L1191.6 762.9L1192.5 764.7L1193.6 766.6L1194.5 768.5L1195.4 770.3L1196.2 772.4L1197.2 774.8L1198.0 777.2L1199.0 779.4L1201.1 780.0L1203.1 780.4L1205.3 780.9L1207.3 781.2L1208.1 783.2L1208.8 784.8L1209.5 786.8L1210.1 788.5L1211.9 789.7L1213.3 791.0L1214.8 792.3" fill="none" stroke="#A000FF" stroke-width="6.8" stroke-linecap="round" stroke-linejoin="round"/>
<rect x="1095" y="118.9" width="167" height="130.5" fill="#fff" stroke="#000" stroke-width="1.4"/>
<line x1="1097.5" y1="140.1" x2="1178.8" y2="140.1" stroke="#FF8000" stroke-width="6" stroke-linecap="round"/>
<line x1="1097.5" y1="184.4" x2="1178.8" y2="184.4" stroke="#008000" stroke-width="6" stroke-linecap="round"/>
<line x1="1097.5" y1="228.5" x2="1178.8" y2="228.5" stroke="#A000FF" stroke-width="6" stroke-linecap="round"/>
<text x="1188" y="152.3" class="lg">1 A</text>
<text x="1188" y="196.60000000000002" class="lg">10 A</text>
<text x="1188" y="240.70000000000002" class="lg">20 A</text>
<path d="M239.6 876.4 V113.60000000000001" stroke="#000" stroke-width="6.6" fill="none" stroke-linecap="round"/>
<path d="M239.6 876.4 H1264.8999999999999" stroke="#000" stroke-width="6.6" fill="none" stroke-linecap="round"/>
<path d="M239.2 113.10000000000001 H1265.3" stroke="#000" stroke-width="5.8" fill="none" stroke-linecap="round"/>
<path d="M1265.3 113.10000000000001 V876.8" stroke="#000" stroke-width="5.7" fill="none" stroke-linecap="round"/>
<path d="M290.7 875.4 V861 M342.0 875.4 V868 M393.3 875.4 V861 M444.5 875.4 V868 M495.8 875.4 V861 M547.1 875.4 V868 M598.4 875.4 V861 M649.7 875.4 V868 M700.9 875.4 V861 M752.2 875.4 V868 M803.5 875.4 V861 M854.8 875.4 V868 M906.1 875.4 V861 M957.3 875.4 V868 M1008.6 875.4 V861 M1059.9 875.4 V868 M1111.2 875.4 V861 M1162.5 875.4 V868 M1213.7 875.4 V861 M240.6 824.9 H254.5 M240.6 723.3 H254.5 M240.6 621.7 H254.5 M240.6 520.1 H254.5 M240.6 418.5 H254.5 M240.6 316.9 H254.5 M240.6 215.3 H254.5 M240.6 774.1 H247 M240.6 672.5 H247 M240.6 570.9 H247 M240.6 469.3 H247 M240.6 367.7 H247 M240.6 266.1 H247 M240.6 164.5 H247" fill="none" stroke="#000" stroke-width="6" stroke-linecap="round"/>
<text transform="translate(290.7 921.3) scale(1 1.05)" class="xt" text-anchor="middle">0</text>
<text transform="translate(393.3 921.3) scale(1 1.05)" class="xt" text-anchor="middle">20</text>
<text transform="translate(495.8 921.3) scale(1 1.05)" class="xt" text-anchor="middle">40</text>
<text transform="translate(598.4 921.3) scale(1 1.05)" class="xt" text-anchor="middle">60</text>
<text transform="translate(700.9 921.3) scale(1 1.05)" class="xt" text-anchor="middle">80</text>
<text transform="translate(803.5 921.3) scale(1 1.05)" class="xt" text-anchor="middle">100</text>
<text transform="translate(906.1 921.3) scale(1 1.05)" class="xt" text-anchor="middle">120</text>
<text transform="translate(1008.6 921.3) scale(1 1.05)" class="xt" text-anchor="middle">140</text>
<text transform="translate(1111.2 921.3) scale(1 1.05)" class="xt" text-anchor="middle">160</text>
<text transform="translate(1213.7 921.3) scale(1 1.05)" class="xt" text-anchor="middle">180</text>
<text transform="translate(222.5 832.9) scale(1 1.06)" class="yt" text-anchor="end">0.0</text>
<text transform="translate(202.5 737.9) scale(1 1.04)" class="yt" text-anchor="end">5.0x10</text>
<text transform="translate(203 716.6) scale(1 1.06)" class="ys">-8</text>
<text transform="translate(202.5 636.3) scale(1 1.04)" class="yt" text-anchor="end">1.0x10</text>
<text transform="translate(203 615.0) scale(1 1.06)" class="ys">-7</text>
<text transform="translate(202.5 534.7) scale(1 1.04)" class="yt" text-anchor="end">1.5x10</text>
<text transform="translate(203 513.4) scale(1 1.06)" class="ys">-7</text>
<text transform="translate(202.5 433.1) scale(1 1.04)" class="yt" text-anchor="end">2.0x10</text>
<text transform="translate(203 411.8) scale(1 1.06)" class="ys">-7</text>
<text transform="translate(202.5 331.5) scale(1 1.04)" class="yt" text-anchor="end">2.5x10</text>
<text transform="translate(203 310.2) scale(1 1.06)" class="ys">-7</text>
<text transform="translate(202.5 229.9) scale(1 1.04)" class="yt" text-anchor="end">3.0x10</text>
<text transform="translate(203 208.6) scale(1 1.06)" class="ys">-7</text>
<text transform="translate(202.5 128.3) scale(1 1.04)" class="yt" text-anchor="end">3.5x10</text>
<text transform="translate(203 107.0) scale(1 1.06)" class="ys">-7</text>
<text transform="translate(728.6 967.7) scale(1 1.04)" class="xl" text-anchor="middle">Crystallization Time (min)</text>
<text transform="translate(55.5 519) rotate(-90)" class="yl" text-anchor="middle">Average Oxygen Concentration in Silicon Melt (mol/cm^3)</text>
</svg>
</body></html>
